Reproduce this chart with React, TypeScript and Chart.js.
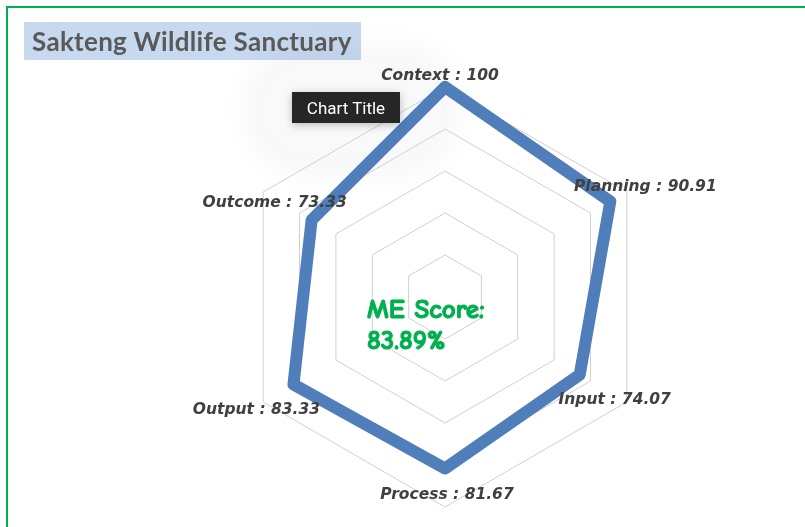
import React, { useEffect, useRef } from "react";
import { Chart, registerables } from "chart.js";

Chart.register(...registerables);

const categories = ["Context", "Planning", "Input", "Process", "Output", "Outcome"];
const scores = [100, 90.91, 74.07, 81.67, 83.33, 73.33];
const gridTicks = [0, 20, 40, 60, 80, 100];
const titleText = "Sakteng Wildlife Sanctuary";
const scoreLine1 = "ME Score:";
const scoreLine2 = "83.89%";
const tooltipText = "Chart Title";

const labelOffsets: [number, number][] = [
  [-5, -11],
  [35, -15],
  [35, 25],
  [2, 26],
  [-37, 25],
  [-37, -17],
];

const labelPlugin = {
  id: "pointValueLabels",
  afterDatasetsDraw(chart: any) {
    const scale = chart.scales.r;
    const ctx = chart.ctx;
    ctx.save();
    ctx.font = "italic bold 15.5px 'DejaVu Sans', sans-serif";
    ctx.fillStyle = "#404040";
    ctx.textAlign = "center";
    ctx.textBaseline = "middle";
    categories.forEach((c, i) => {
      const p = scale.getPointPositionForValue(i, scores[i]);
      ctx.fillText(`${c} : ${scores[i]}`, p.x + labelOffsets[i][0], p.y + labelOffsets[i][1]);
    });
    ctx.font = "bold 27px 'Comic Sans MS', 'Comic Neue', cursive";
    ctx.fillStyle = "#00b050";
    ctx.strokeStyle = "#00b050";
    ctx.lineWidth = 1.1;
    ctx.textAlign = "left";
    const x = scale.xCenter - 78;
    ctx.fillText(scoreLine1, x, scale.yCenter + 13);
    ctx.strokeText(scoreLine1, x, scale.yCenter + 13);
    ctx.fillText(scoreLine2, x, scale.yCenter + 44);
    ctx.strokeText(scoreLine2, x, scale.yCenter + 44);
    ctx.restore();
  },
};

function RadarChart() {
  const ref = useRef<HTMLCanvasElement | null>(null);
  useEffect(() => {
    if (!ref.current) return;
    const chart = new Chart(ref.current, {
      type: "radar",
      data: {
        labels: categories,
        datasets: [
          {
            data: scores,
            borderColor: "#4f7ebb",
            borderWidth: 12,
            borderJoinStyle: "round",
            backgroundColor: "rgba(0,0,0,0)",
            fill: false,
            pointRadius: 0,
            pointHoverRadius: 0,
          },
        ],
      },
      options: {
        animation: false,
        responsive: false,
        devicePixelRatio: 1,
        layout: { padding: { left: 235, right: 150, top: 87, bottom: 20 } },
        plugins: {
          legend: { display: false },
          tooltip: { enabled: false },
          title: { display: false },
        },
        scales: {
          r: {
            min: gridTicks[0],
            max: gridTicks[gridTicks.length - 1],
            ticks: { display: false, stepSize: 20 },
            grid: { color: "#d0d0d0", lineWidth: 1 },
            angleLines: { display: false },
            pointLabels: { display: false },
          },
        },
      },
      plugins: [labelPlugin],
    } as any);
    return () => chart.destroy();
  }, []);
  return (
    <canvas
      ref={ref}
      width={805}
      height={527}
      style={{ position: "absolute", left: 0, top: 0, width: 805, height: 527 }}
    />
  );
}

export default function App() {
  return (
    <div
      style={{
        position: "absolute",
        left: 0,
        top: 0,
        width: 805,
        height: 527,
        overflow: "hidden",
        background: "#ffffff",
      }}
    >
      <div
        style={{
          position: "absolute",
          left: 6,
          top: 6,
          width: 830,
          height: 560,
          border: "2px solid #00b050",
          boxSizing: "border-box",
        }}
      />
      <div
        style={{
          position: "absolute",
          left: 24,
          top: 22,
          width: 337,
          height: 38,
          background: "#c6d9ef",
        }}
      />
      <div
        style={{
          position: "absolute",
          left: 262,
          top: 62,
          width: 180,
          height: 95,
          borderRadius: 60,
          boxShadow: "0 0 30px 18px rgba(0,0,0,0.035)",
          background: "rgba(0,0,0,0.025)",
        }}
      />
      <RadarChart />
      <div
        style={{
          position: "absolute",
          left: 24,
          top: 22,
          width: 337,
          height: 38,
          display: "flex",
          alignItems: "center",
          paddingLeft: 8,
          boxSizing: "border-box",
          color: "#595959",
          fontFamily: "Lato, 'DejaVu Sans', sans-serif",
          fontWeight: 700,
          fontSize: 26,
          letterSpacing: 0.3,
          whiteSpace: "nowrap",
        }}
      >
        {titleText}
      </div>
      <div
        style={{
          position: "absolute",
          left: 292,
          top: 92,
          width: 108,
          height: 31,
          background: "#262626",
          color: "#ffffff",
          fontFamily: "Roboto, 'Liberation Sans', sans-serif",
          fontSize: 17,
          display: "flex",
          alignItems: "center",
          justifyContent: "center",
          boxShadow: "0 2px 8px rgba(0,0,0,0.25)",
          whiteSpace: "nowrap",
        }}
      >
        {tooltipText}
      </div>
    </div>
  );
}
